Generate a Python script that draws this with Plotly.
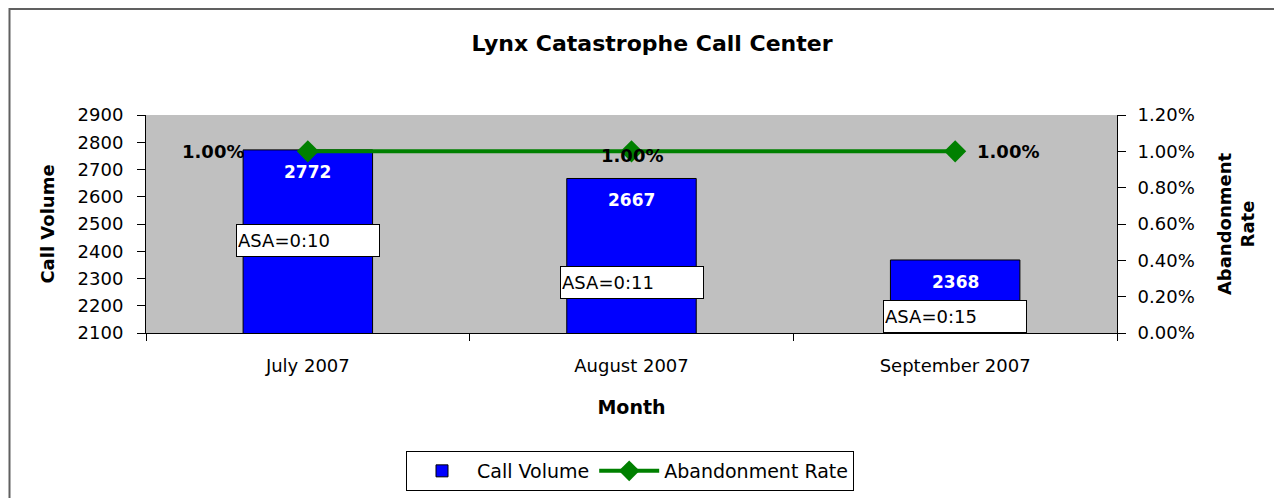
import plotly.graph_objects as go

months = ["July 2007", "August 2007", "September 2007"]
call_volume = [2772, 2667, 2368]
abandonment_rate = [0.01, 0.01, 0.01]
asa_labels = ["ASA=0:10", "ASA=0:11", "ASA=0:15"]
asa_y = [2441, 2287, 2159]

# page body has an 8px margin: screen px = figure px + 8
OFF = 8
W, H = 1282, 498
PL, PR, PT, PB = 146, 1117, 115, 333  # plot area in screen px
L, T = PL - OFF, PT - OFF
pw, ph = PR - PL, PB - PT
R = W - L - pw
B = H - T - ph

def px_x(p):
    return (p - PL) / pw

def px_y(p):
    return (PB - p) / ph

FONT = "DejaVu Sans, Arial, sans-serif"

fig = go.Figure()
fig.add_trace(go.Bar(
    x=months, y=call_volume, name="Call Volume",
    marker=dict(color="#0000FF", line=dict(color="black", width=1)),
    width=0.4,
))
fig.add_trace(go.Scatter(
    x=months, y=abandonment_rate, name="Abandonment Rate", yaxis="y2",
    mode="lines+markers",
    line=dict(color="#008000", width=4),
    marker=dict(symbol="diamond", size=17, color="#008000"),
    cliponaxis=False,
))

# bar value labels (white, inside top)
for m, v in zip(months, call_volume):
    fig.add_annotation(x=m, y=v, xref="x", yref="y", text=f"<b>{v}</b>",
                       showarrow=False, yanchor="middle", yshift=-22,
                       font=dict(size=17, family=FONT, color="white"))

# rate labels
rate_pos = [dict(xanchor="right", xshift=-62, yshift=0),
            dict(xanchor="center", xshift=0, yshift=-4),
            dict(xanchor="left", xshift=20, yshift=0)]
for m, r, p in zip(months, abandonment_rate, rate_pos):
    fig.add_annotation(x=m, y=r, xref="x", yref="y2", text=f"<b>{r*100:.2f}%</b>",
                       showarrow=False, yanchor="middle",
                       font=dict(size=18, family=FONT, color="black"), **p)

for m, lab, yv in zip(months, asa_labels, asa_y):
    fig.add_annotation(
        x=m, y=yv, xref="x", yref="y", text=lab, showarrow=False,
        font=dict(size=18, family=FONT, color="black"),
        bgcolor="white", bordercolor="black", borderwidth=1,
        width=140, height=29, align="left", xanchor="center", yanchor="middle",
    )

fig.add_shape(type="rect", xref="paper", yref="paper",
              x0=px_x(9.5), x1=px_x(1320), y0=px_y(540), y1=px_y(9),
              line=dict(color="#606060", width=2), fillcolor="rgba(0,0,0,0)",
              layer="below")

fig.update_layout(
    width=W, height=H,
    margin=dict(l=L, r=R, t=T, b=B),
    paper_bgcolor="white", plot_bgcolor="#C0C0C0",
    font=dict(family=FONT, size=18, color="black"),
    title=dict(text="<b>Lynx Catastrophe Call Center</b>",
               x=(652 - OFF) / W, xanchor="center",
               y=1 - (43 - OFF) / H, yanchor="middle",
               font=dict(size=22, family=FONT)),
    xaxis=dict(
        title=dict(text="<b>Month</b>", font=dict(size=19), standoff=26),
        showline=True, linecolor="black", linewidth=1, mirror=False,
        ticks="outside", tickson="boundaries", ticklen=7, tickcolor="black",
        tickfont=dict(size=18), showgrid=False, ticklabelstandoff=16,
    ),
    yaxis=dict(
        title=dict(text="<b>Call Volume</b>", font=dict(size=18), standoff=18),
        range=[2100, 2900], dtick=100, tick0=2100,
        showline=True, linecolor="black", linewidth=1,
        ticks="outside", ticklen=8, tickcolor="black",
        showgrid=False, zeroline=False, tickfont=dict(size=18),
        ticklabelstandoff=10,
    ),
    yaxis2=dict(
        title=dict(text="<b>Abandonment<br>Rate</b>", font=dict(size=18), standoff=24),
        overlaying="y", side="right",
        range=[0, 0.012], dtick=0.002, tickformat=".2%",
        showline=True, linecolor="black", linewidth=1,
        ticks="outside", ticklen=8, tickcolor="black",
        showgrid=False, zeroline=False, tickfont=dict(size=18),
        ticklabelstandoff=8,
    ),
    legend=dict(
        orientation="h", x=px_x(630), xanchor="center", y=px_y(451), yanchor="top",
        bordercolor="black", borderwidth=1, bgcolor="white",
        font=dict(size=19), traceorder="normal", itemwidth=60,
    ),
    showlegend=True,
)

fig.write_html("out.html")
